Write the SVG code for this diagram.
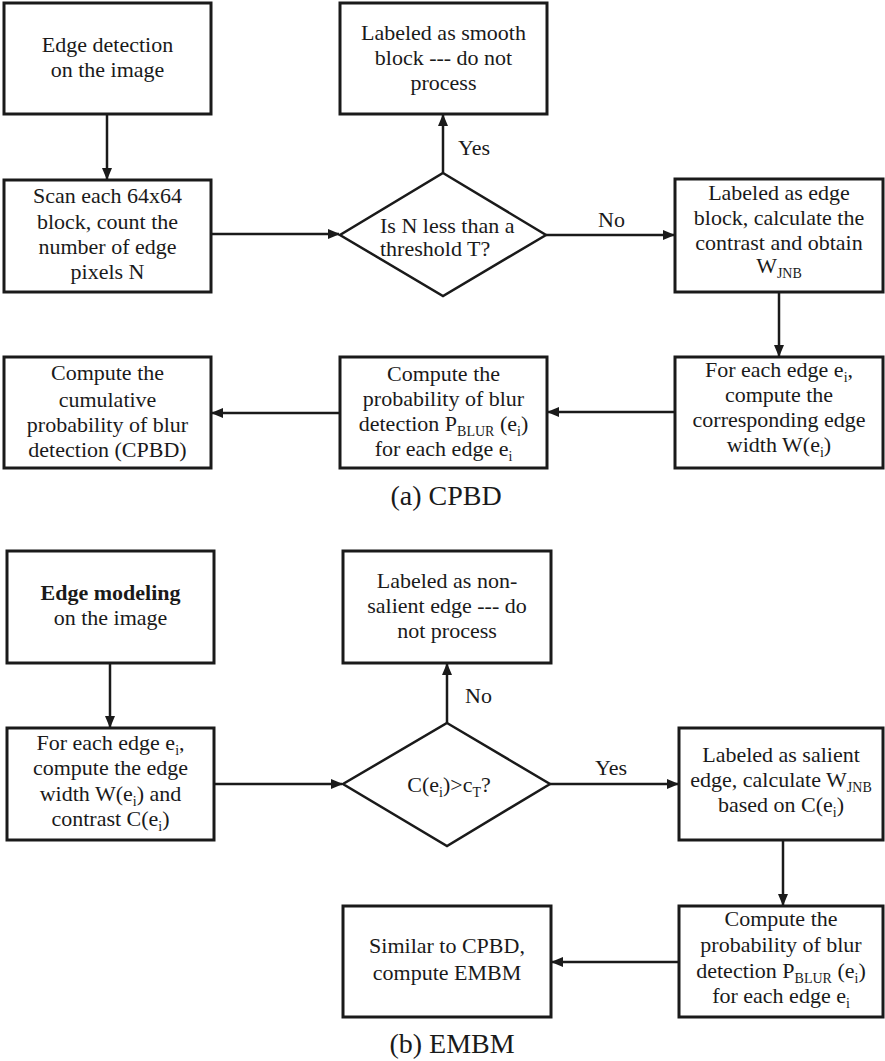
<svg xmlns="http://www.w3.org/2000/svg" width="885" height="1061" viewBox="0 0 885 1061">
<defs>
<style>
.box{fill:#fff;stroke:#1a1a1a;stroke-width:3}
.dia{fill:#fff;stroke:#1a1a1a;stroke-width:2.5}
.ln{fill:none;stroke:#1a1a1a;stroke-width:2.5}
text{font-family:"Liberation Serif","Times New Roman",serif;font-size:22px;fill:#1a1a1a}
.c{text-anchor:middle}
.cap{font-size:28px}
.sub{font-size:14px}
</style>
<marker id="ah" markerUnits="userSpaceOnUse" markerWidth="12" markerHeight="12" viewBox="0 0 12 12" refX="11" refY="6" orient="auto">
<path d="M0,1 L12,6 L0,11 Z" fill="#1a1a1a"/>
</marker>
</defs>
<rect width="885" height="1061" fill="#fff"/>

<g id="connectors">
<line class="ln" x1="107" y1="114" x2="107" y2="179" marker-end="url(#ah)"/>
<line class="ln" x1="211" y1="234" x2="339" y2="234" marker-end="url(#ah)"/>
<line class="ln" x1="443" y1="173" x2="443" y2="115" marker-end="url(#ah)"/>
<line class="ln" x1="546" y1="235" x2="674" y2="235" marker-end="url(#ah)"/>
<line class="ln" x1="779" y1="292" x2="779" y2="356" marker-end="url(#ah)"/>
<line class="ln" x1="675" y1="412" x2="548" y2="412" marker-end="url(#ah)"/>
<line class="ln" x1="340" y1="413" x2="212" y2="413" marker-end="url(#ah)"/>
<text x="458" y="155">Yes</text>
<text x="598" y="227">No</text>

<line class="ln" x1="110" y1="663" x2="110" y2="727" marker-end="url(#ah)"/>
<line class="ln" x1="214" y1="784" x2="342" y2="784" marker-end="url(#ah)"/>
<line class="ln" x1="447" y1="723" x2="447" y2="664" marker-end="url(#ah)"/>
<line class="ln" x1="550" y1="784" x2="678" y2="784" marker-end="url(#ah)"/>
<line class="ln" x1="783" y1="840" x2="783" y2="905" marker-end="url(#ah)"/>
<line class="ln" x1="679" y1="962" x2="552" y2="962" marker-end="url(#ah)"/>
<text x="465" y="703">No</text>
<text x="595" y="775">Yes</text>
</g>

<g id="a_edge_detection">
<rect class="box" x="4" y="3" width="207" height="111"/>
<text class="c" x="107.5" y="52">Edge detection</text>
<text class="c" x="107.5" y="77">on the image</text>
</g>
<g id="a_scan">
<rect class="box" x="4" y="180" width="207" height="112"/>
<text class="c" x="107.5" y="203">Scan each 64x64</text>
<text class="c" x="107.5" y="229">block, count the</text>
<text class="c" x="107.5" y="254">number of edge</text>
<text class="c" x="107.5" y="279">pixels N</text>
</g>
<g id="a_smooth">
<rect class="box" x="340" y="3" width="207" height="111"/>
<text class="c" x="443.5" y="40">Labeled as smooth</text>
<text class="c" x="443.5" y="65">block --- do not</text>
<text class="c" x="443.5" y="90">process</text>
</g>
<g id="a_decision">
<polygon class="dia" points="443,173 546,235 443,296 340,235"/>
<text x="380" y="233">Is N less than a</text>
<text x="380" y="256">threshold T?</text>
</g>
<g id="a_edge_block">
<rect class="box" x="675" y="179" width="208" height="113"/>
<text class="c" x="779" y="200">Labeled as edge</text>
<text class="c" x="779" y="225">block, calculate the</text>
<text class="c" x="779" y="250">contrast and obtain</text>
<text class="c" x="779" y="273">W<tspan class="sub" dy="5">JNB</tspan></text>
</g>
<g id="a_width">
<rect class="box" x="675" y="357" width="208" height="111"/>
<text class="c" x="779" y="377">For each edge e<tspan class="sub" dy="5">i</tspan><tspan dy="-5">,</tspan></text>
<text class="c" x="779" y="402">compute the</text>
<text class="c" x="779" y="427">corresponding edge</text>
<text class="c" x="779" y="452">width W(e<tspan class="sub" dy="5">i</tspan><tspan dy="-5">)</tspan></text>
</g>
<g id="a_prob">
<rect class="box" x="340" y="357" width="207" height="111"/>
<text class="c" x="443.5" y="381">Compute the</text>
<text class="c" x="443.5" y="406">probability of blur</text>
<text class="c" x="443.5" y="431">detection P<tspan class="sub" dy="5">BLUR</tspan><tspan dy="-5"> (e</tspan><tspan class="sub" dy="5">i</tspan><tspan dy="-5">)</tspan></text>
<text class="c" x="443.5" y="456">for each edge e<tspan class="sub" dy="5">i</tspan></text>
</g>
<g id="a_cpbd">
<rect class="box" x="4" y="357" width="207" height="111"/>
<text class="c" x="107.5" y="380">Compute the</text>
<text class="c" x="107.5" y="407">cumulative</text>
<text class="c" x="107.5" y="432">probability of blur</text>
<text class="c" x="107.5" y="457">detection (CPBD)</text>
</g>
<text class="c cap" x="446" y="505">(a) CPBD</text>

<g id="b_edge_modeling">
<rect class="box" x="7" y="551" width="207" height="112"/>
<text class="c" x="110.5" y="600" font-weight="bold">Edge modeling</text>
<text class="c" x="110.5" y="625">on the image</text>
</g>
<g id="b_foreach">
<rect class="box" x="7" y="728" width="207" height="112"/>
<text class="c" x="110.5" y="750">For each edge e<tspan class="sub" dy="5">i</tspan><tspan dy="-5">,</tspan></text>
<text class="c" x="110.5" y="775">compute the edge</text>
<text class="c" x="110.5" y="801">width W(e<tspan class="sub" dy="5">i</tspan><tspan dy="-5">) and</tspan></text>
<text class="c" x="110.5" y="826">contrast C(e<tspan class="sub" dy="5">i</tspan><tspan dy="-5">)</tspan></text>
</g>
<g id="b_nonsalient">
<rect class="box" x="343" y="551" width="208" height="112"/>
<text class="c" x="447" y="588">Labeled as non-</text>
<text class="c" x="447" y="613">salient edge --- do</text>
<text class="c" x="447" y="638">not process</text>
</g>
<g id="b_decision">
<polygon class="dia" points="447,723 550,784 447,846 343,784"/>
<text class="c" x="449" y="792">C(e<tspan class="sub" dy="5">i</tspan><tspan dy="-5">)&gt;c</tspan><tspan class="sub" dy="5">T</tspan><tspan dy="-5">?</tspan></text>
</g>
<g id="b_salient">
<rect class="box" x="679" y="728" width="204" height="112"/>
<text class="c" x="781" y="762">Labeled as salient</text>
<text class="c" x="781" y="787">edge, calculate W<tspan class="sub" dy="5">JNB</tspan></text>
<text class="c" x="781" y="812">based on C(e<tspan class="sub" dy="5">i</tspan><tspan dy="-5">)</tspan></text>
</g>
<g id="b_prob">
<rect class="box" x="679" y="906" width="204" height="111"/>
<text class="c" x="781" y="926">Compute the</text>
<text class="c" x="781" y="952">probability of blur</text>
<text class="c" x="781" y="978">detection P<tspan class="sub" dy="5">BLUR</tspan><tspan dy="-5"> (e</tspan><tspan class="sub" dy="5">i</tspan><tspan dy="-5">)</tspan></text>
<text class="c" x="781" y="1003">for each edge e<tspan class="sub" dy="5">i</tspan></text>
</g>
<g id="b_embm">
<rect class="box" x="343" y="906" width="208" height="111"/>
<text class="c" x="447" y="953">Similar to CPBD,</text>
<text class="c" x="447" y="980">compute EMBM</text>
</g>
<text class="c cap" x="452" y="1053">(b) EMBM</text>
</svg>
